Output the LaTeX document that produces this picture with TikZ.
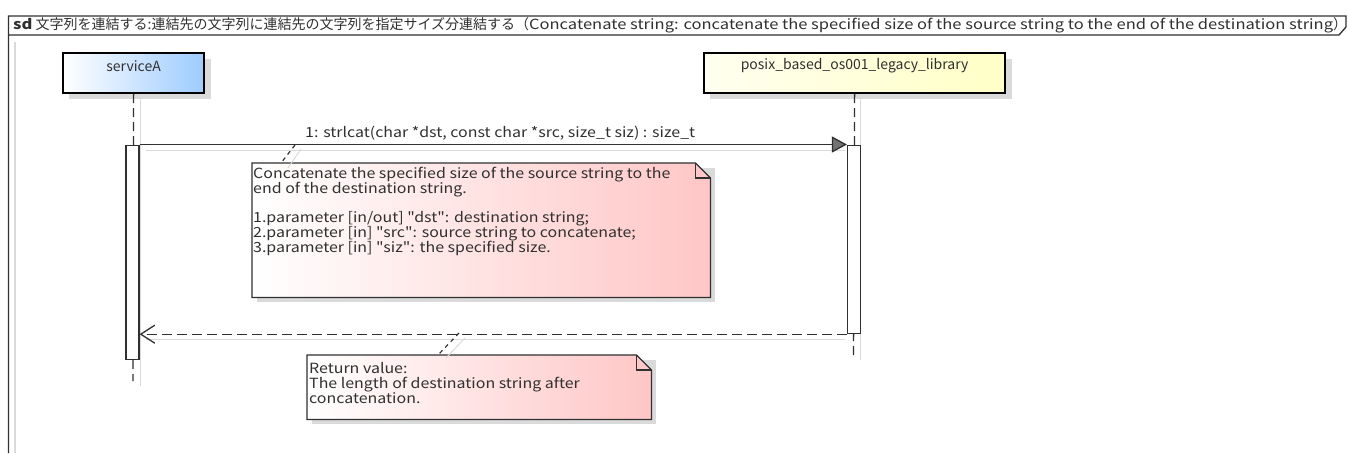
\documentclass[tikz,border=0pt]{standalone}
\usepackage{fontspec}
\setmainfont{Noto Sans CJK JP}
\newfontfamily\lat{Noto Sans CJK JP}[FakeStretch=1.14]
\newfontfamily\latt{Noto Sans CJK JP}[FakeStretch=1.18]
\usetikzlibrary{arrows.meta,calc}
\definecolor{shd}{HTML}{DADADA}
\definecolor{blueR}{HTML}{9DCBFF}
\definecolor{yelL}{HTML}{FFFFF0}
\definecolor{yelR}{HTML}{FFFFC6}
\definecolor{pinkR}{HTML}{FFC6C6}
\definecolor{ink}{HTML}{303030}
\begin{document}
\begin{tikzpicture}[x=1pt,y=-1pt,
  every node/.style={inner sep=0pt, text=ink},
  txt/.style={font=\lat\fontsize{14}{15}\selectfont},
  lbl/.style={font=\fontsize{14}{15}\selectfont},
  partbox/.style={draw=black, line width=2.2pt, minimum height=40pt, anchor=north west},
  lifeline/.style={draw=ink, line width=1.3pt, dash pattern=on 9pt off 5pt},
  actbar/.style={draw=ink, fill=white, line width=1.2pt, minimum width=13pt, anchor=north},
  notelink/.style={draw=ink, line width=1.2pt, dash pattern=on 4pt off 4pt},
  shline/.style={draw=shd, line width=1pt},
  notepath/.style={draw=ink, line width=1.2pt}
]
\useasboundingbox (0,0) rectangle (1349,453);

% frame
\draw[shd, line width=1.5pt] (15,42) -- (15,453);
\draw[ink, line width=1.3pt] (8.5,453) -- (8.5,16) -- (1346,16) -- (1346,27) -- (1339,35) -- (8.5,35);
\node[anchor=west, font=\fontsize{14}{15}\selectfont] (title) at (13,25)
  {{\latt\bfseries sd} 文字列を連結する:連結先の文字列に連結先の文字列を指定サイズ分連結する（{\latt Concatenate string: concatenate the specified size of the source string to the end of the destination string}）};

% participants
\fill[shd] (69,59) rectangle (211,99);
\node[partbox, minimum width=141pt, left color=white, right color=blueR] (svc) at (62,52) {};
\node[lbl] (svcl) at ($(svc.north)+(0,14)$) {serviceA};
\fill[shd] (710,59) rectangle (1012,99);
\node[partbox, minimum width=301pt, left color=yelL, right color=yelR] (lib) at (703,52) {};
\node[lbl] (libl) at ($(lib.north)+(0,14)$) {posix\_based\_os001\_legacy\_library};

% lifelines
\coordinate (svcEnd) at (133,381);
\coordinate (libEnd) at (853.5,358);
\draw[shline] (140,99) -- (140,386);
\draw[shline] (860.5,99) -- (860.5,360);
\draw[lifeline] (svc.south) -- (svcEnd);
\draw[lifeline] (lib.south) -- (libEnd);

% activations
\node[actbar, minimum height=214pt] (actA) at (132.5,144.5) {};
\node[actbar, minimum height=188.5pt] (actB) at (854,144.5) {};

% call message
\draw[shline] (146,150.5) -- (845,150.5);
\draw[ink, line width=1.3pt, -{Triangle[length=15pt,width=16pt,fill=black!55]}] (actA.north east) -- (actB.north west);
\node[txt, anchor=base west] (msg) at (305,137) {1: strlcat(char *dst, const char *src, size\_t siz) : size\_t};

% note 1
\fill[shd] (257,168) rectangle (715,302);
\node[minimum width=458pt, minimum height=134pt, anchor=north west] (n1) at (252,163) {};
\shade[left color=white, right color=pinkR] (n1.north west) -- ($(n1.north east)+(-15,0)$) -- ($(n1.north east)+(0,15)$) -- (n1.south east) -- (n1.south west) -- cycle;
\draw[notepath] (n1.north west) -- ($(n1.north east)+(-15,0)$) -- ($(n1.north east)+(0,15)$) -- (n1.south east) -- (n1.south west) -- cycle;
\draw[notepath] ($(n1.north east)+(-15,0)$) -- ($(n1.north east)+(-15,15)$) -- ($(n1.north east)+(0,15)$);
\node[txt, anchor=base west, align=left] (n1t) at (253,252)
  {Concatenate the specified size of the source string to the\\
   end of the destination string.\\[14pt]
   1.parameter [in/out] "dst": destination string;\\
   2.parameter [in] "src": source string to concatenate;\\
   3.parameter [in] "siz": the specified size.};
\coordinate (n1a) at (295,145);
\coordinate (n1b) at (281,163);
\draw[shline] (301,149) -- (288,168);
\draw[notelink] (n1a) -- (n1b);

% return message
\draw[shline] (146,339.5) -- (845,339.5);
\draw[ink, line width=1.3pt, dash pattern=on 10pt off 5pt, -{Straight Barb[length=14pt,width=18pt]}] (actB.south west) -- (actA.south east |- actB.south west);

% note 2
\fill[shd] (312,360) rectangle (656,424);
\node[minimum width=344pt, minimum height=64pt, anchor=north west] (n2) at (307,355) {};
\shade[left color=white, right color=pinkR] (n2.north west) -- ($(n2.north east)+(-15,0)$) -- ($(n2.north east)+(0,15)$) -- (n2.south east) -- (n2.south west) -- cycle;
\draw[notepath] (n2.north west) -- ($(n2.north east)+(-15,0)$) -- ($(n2.north east)+(0,15)$) -- (n2.south east) -- (n2.south west) -- cycle;
\draw[notepath] ($(n2.north east)+(-15,0)$) -- ($(n2.north east)+(-15,15)$) -- ($(n2.north east)+(0,15)$);
\node[txt, anchor=base west, align=left] (n2t) at (309,403)
  {Return value:\\
   The length of destination string after\\
   concatenation.};
\coordinate (n2a) at (459,333);
\coordinate (n2b) at (438,355);
\draw[shline] (465,338) -- (446,358);
\draw[notelink] (n2a) -- (n2b);
\end{tikzpicture}
\end{document}
